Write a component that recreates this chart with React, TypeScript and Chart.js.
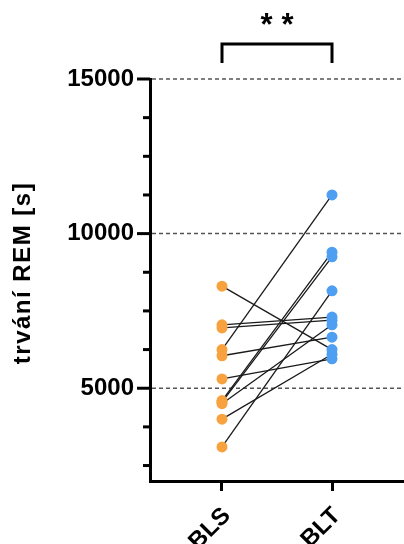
import React, { useEffect, useRef } from 'react';
import { Chart, registerables } from 'chart.js';

Chart.register(...registerables);

// ---- data ----
const categories = ['BLS', 'BLT'];
const blsValues = [8300, 7050, 6950, 6250, 6050, 5300, 4600, 4550, 4500, 4000, 3100];
const bltValues = [6250, 7300, 7200, 11250, 6650, 5950, 9400, 9250, 7050, 6100, 8150];
const majorTicks = [5000, 10000, 15000];
const minorTicks = [2500, 3750, 6250, 7500, 8750, 11250, 12500, 13750];
const yMin = 2000;
const yMax = 15000;
const yTitle = 'trvání REM [s]';
const significance = ['*', '*'];

const FONT = "'Liberation Sans', Arial, Helvetica, sans-serif";
const ORANGE = '#F7A23F';
const BLUE = '#4E9FF2';

const decor = {
  id: 'decor',
  beforeDatasetsDraw(chart: any) {
    const { ctx, chartArea, scales } = chart;
    const y = scales.y;
    ctx.save();
    ctx.strokeStyle = '#555';
    ctx.lineWidth = 1.5;
    ctx.setLineDash([4, 3]);
    majorTicks.forEach((v) => {
      const py = y.getPixelForValue(v);
      ctx.beginPath();
      ctx.moveTo(chartArea.left + 2, py);
      ctx.lineTo(chart.width, py);
      ctx.stroke();
    });
    ctx.setLineDash([]);
    ctx.strokeStyle = '#000';
    ctx.lineWidth = 3;
    majorTicks.forEach((v) => {
      const py = y.getPixelForValue(v);
      ctx.beginPath();
      ctx.moveTo(chartArea.left - 13, py);
      ctx.lineTo(chartArea.left, py);
      ctx.stroke();
    });
    minorTicks.forEach((v) => {
      const py = y.getPixelForValue(v);
      ctx.beginPath();
      ctx.moveTo(chartArea.left - 7, py);
      ctx.lineTo(chartArea.left, py);
      ctx.stroke();
    });
    ctx.restore();
  },
  afterDraw(chart: any) {
    const { ctx, chartArea, scales } = chart;
    const x = scales.x;
    const x1 = x.getPixelForValue(1);
    const x2 = x.getPixelForValue(2);
    const top = chartArea.top - 35;
    const bottom = chartArea.top - 16;
    ctx.save();
    ctx.strokeStyle = '#000';
    ctx.lineWidth = 3;
    ctx.lineJoin = 'miter';
    ctx.beginPath();
    ctx.moveTo(x1, bottom);
    ctx.lineTo(x1, top);
    ctx.lineTo(x2, top);
    ctx.lineTo(x2, bottom);
    ctx.stroke();
    ctx.fillStyle = '#000';
    ctx.font = `bold 31px ${FONT}`;
    ctx.textAlign = 'center';
    ctx.textBaseline = 'alphabetic';
    const mid = (x1 + x2) / 2;
    ctx.fillText(significance[0], mid - 10.5, 35);
    ctx.fillText(significance[1], mid + 10.5, 35);
    // x category labels, rotated 45deg
    ctx.font = `bold 24px ${FONT}`;
    ctx.textAlign = 'right';
    ctx.textBaseline = 'middle';
    categories.forEach((c, i) => {
      const px = x.getPixelForValue(i + 1);
      ctx.save();
      ctx.translate(px + 5, chartArea.bottom + 31);
      ctx.rotate(-Math.PI / 4);
      ctx.fillText(c, 0, 0);
      ctx.restore();
    });
    // y axis title
    ctx.save();
    ctx.font = `bold 24px ${FONT}`;
    (ctx as any).letterSpacing = '1.5px';
    ctx.textAlign = 'center';
    ctx.textBaseline = 'middle';
    ctx.translate(23, 273);
    ctx.rotate(-Math.PI / 2);
    ctx.fillText(yTitle, 0, 0);
    ctx.restore();
    ctx.restore();
  },
};

export default function App() {
  const ref = useRef<HTMLCanvasElement | null>(null);
  useEffect(() => {
    if (!ref.current) return;
    const lineSets = blsValues.map((v, i) => ({
      type: 'scatter' as const,
      data: [
        { x: 1, y: v },
        { x: 2, y: bltValues[i] },
      ],
      showLine: true,
      borderColor: '#1a1a1a',
      borderWidth: 1.3,
      pointRadius: 0,
      order: 2,
    }));
    const chart = new Chart(ref.current, {
      type: 'scatter',
      data: {
        datasets: [
          {
            data: blsValues.map((v) => ({ x: 1, y: v })),
            backgroundColor: ORANGE,
            borderWidth: 0,
            pointRadius: 5.5,
            order: 1,
          },
          {
            data: bltValues.map((v) => ({ x: 2, y: v })),
            backgroundColor: BLUE,
            borderWidth: 0,
            pointRadius: 5.5,
            order: 1,
          },
          ...lineSets,
        ],
      },
      options: {
        animation: false,
        responsive: false,
        events: [],
        layout: { autoPadding: false, padding: { top: 79, left: 0, right: 0, bottom: 0 } },
        plugins: { legend: { display: false }, tooltip: { enabled: false } },
        scales: {
          x: {
            type: 'linear',
            min: 1 - 0.6545,
            max: 2 + 0.6545,
            afterBuildTicks: (s: any) => {
              s.ticks = [{ value: 1 }, { value: 2 }];
            },
            afterFit: (s: any) => {
              s.height = 63;
              s.paddingLeft = 0;
              s.paddingRight = 0;
            },
            ticks: {
              display: false,
              autoSkip: false,
            },
            grid: {
              drawOnChartArea: false,
              drawTicks: true,
              tickLength: 10,
              tickWidth: 3,
              tickColor: '#000',
              color: '#000',
            },
            border: { display: true, width: 3, color: '#000' },
          },
          y: {
            type: 'linear',
            min: yMin,
            max: yMax,
            afterBuildTicks: (s: any) => {
              s.ticks = [...minorTicks, ...majorTicks].sort((a, b) => a - b).map((value) => ({ value }));
            },
            afterFit: (s: any) => {
              s.width = 150;
            },
            ticks: {
              autoSkip: false,
              padding: 16,
              color: '#000',
              font: { family: FONT, size: 24, weight: 'bold' },
              callback: (v: any) => (majorTicks.includes(Number(v)) ? String(v) : ''),
            },
            grid: { display: false, drawTicks: false },
            border: { display: true, width: 3, color: '#000' },
            title: { display: false },
          },
        },
      },
      plugins: [decor],
    } as any);
    return () => chart.destroy();
  }, []);
  return (
    <div style={{ position: 'fixed', left: 0, top: 0, width: 404, height: 544, background: '#fff' }}>
      <canvas ref={ref} width={404} height={544} />
    </div>
  );
}
